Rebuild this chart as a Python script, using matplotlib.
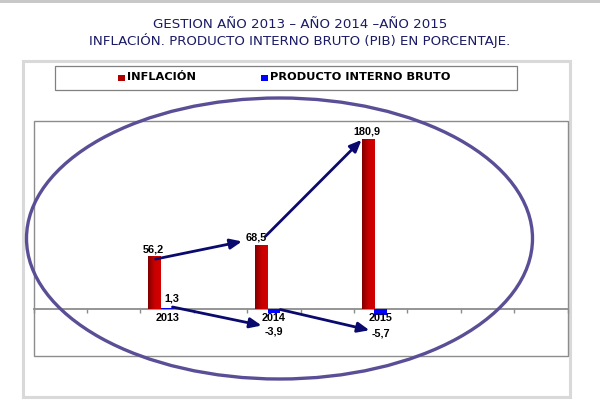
import matplotlib
matplotlib.use("Agg")
import matplotlib.pyplot as plt
import numpy as np
from matplotlib.patches import Rectangle, Ellipse
from matplotlib.colors import LinearSegmentedColormap

# ---- data ----
years = ["2013", "2014", "2015"]
inflacion = [56.2, 68.5, 180.9]
pib = [1.3, -3.9, -5.7]
inflacion_labels = ["56,2", "68,5", "180,9"]
pib_labels = ["1,3", "-3,9", "-5,7"]
series_names = ["INFLACIÓN", "PRODUCTO INTERNO BRUTO"]

title1 = "GESTION AÑO 2013 – AÑO 2014 –AÑO 2015"
title2 = "INFLACIÓN. PRODUCTO INTERNO BRUTO (PIB) EN PORCENTAJE."

# ---- layout ----
W, H = 600, 401
fig = plt.figure(figsize=(6, 4.01), dpi=100)
fig.patch.set_facecolor("white")

def fx(px):
    return px / W

def fy(py):
    return 1 - py / H

# top gray strip
fig.add_artist(Rectangle((0, fy(3)), 1, 3 / H, transform=fig.transFigure,
                         facecolor="#c8c8c8", edgecolor="none", zorder=-10))
# outer chart frame
fig.add_artist(Rectangle((fx(23), fy(397)), fx(570) - fx(23), (397 - 61) / H,
                         transform=fig.transFigure, facecolor="white",
                         edgecolor="#d9d9d9", linewidth=2.2, zorder=-10))
# legend box
fig.add_artist(Rectangle((fx(55), fy(90)), fx(517) - fx(55), (90 - 66) / H,
                         transform=fig.transFigure, facecolor="white",
                         edgecolor="#808080", linewidth=0.9, zorder=-9))

navy = "#1a1a66"
fig.text(0.5, fy(24), title1, ha="center", va="center", color=navy,
         fontsize=9.6, family="DejaVu Sans")
fig.text(0.5, fy(41), title2, ha="center", va="center", color=navy,
         fontsize=9.6, family="DejaVu Sans")

# legend entries
leg_font = dict(fontsize=8.2, fontweight="bold", family="DejaVu Sans",
                va="center", ha="left", color="black")
fig.add_artist(Rectangle((fx(118), fy(81)), 7 / W, 6 / H, transform=fig.transFigure,
                         facecolor="#b00000", edgecolor="none"))
fig.text(fx(127), fy(77.5), series_names[0], **leg_font)
fig.add_artist(Rectangle((fx(261), fy(81)), 7 / W, 6 / H, transform=fig.transFigure,
                         facecolor="#0000ff", edgecolor="none"))
fig.text(fx(270), fy(77.5), series_names[1], **leg_font)

# ---- axes ----
left, right, top, bottom = 33.7, 567.5, 121, 356.2
ax = fig.add_axes([fx(left), fy(bottom), fx(right) - fx(left), (bottom - top) / H])
ax.set_facecolor("none")
n_slots = 10
slots = [2, 4, 6]
for s in ax.spines.values():
    s.set_visible(False)
ax.add_patch(Rectangle((0, 0), 1, 1, transform=ax.transAxes, fill=False,
                       edgecolor="#8c8c8c", linewidth=1.0, zorder=1, clip_on=False))
ax.spines["bottom"].set_visible(True)
ax.spines["bottom"].set_position(("data", 0))
ax.spines["bottom"].set_color("#8c8c8c")
ax.spines["bottom"].set_linewidth(1.3)
ax.set_yticks([])
ax.set_xticks(np.arange(0, n_slots + 1))
ax.set_xticklabels([])
ax.tick_params(axis="x", direction="out", length=3, color="#8c8c8c", width=1)

bw = 0.238
centers = np.array(slots) + 0.5
red_x = centers - bw
blue_x = centers

# red bars with gradient
grad = np.linspace(0, 1, 64).reshape(1, -1)
cmap = LinearSegmentedColormap.from_list("rg", ["#800000", "#c80000", "#d40000"])
bars = ax.bar(red_x, inflacion, width=bw, color="#b00000",
              edgecolor="none", zorder=3)
for b in bars:
    x0, y0 = b.get_x(), b.get_y()
    w, h = b.get_width(), b.get_height()
    im = ax.imshow(grad, extent=[x0, x0 + w, y0, y0 + h], aspect="auto",
                   cmap=cmap, zorder=3.1, interpolation="bilinear")
    im.set_clip_path(b)

ax.bar(blue_x, pib, width=bw, color="#0000ff", edgecolor="none", zorder=4)
ax.set_xlim(0, n_slots)
ax.set_ylim(-50, 200)

lab_font = dict(fontsize=7.8, fontweight="bold", family="Liberation Sans",
                color="black", zorder=6)
red_lab_dx = [-0.03, -0.1, -0.02]
for x, v, t, dx in zip(red_x, inflacion, inflacion_labels, red_lab_dx):
    ax.annotate(t, (x + dx, v), xytext=(0, 1.5), textcoords="offset points",
                ha="center", va="bottom", **lab_font)
for x, v, t in zip(blue_x, pib, pib_labels):
    if v >= 0:
        ax.annotate(t, (x + 0.08, v), xytext=(0, 3), textcoords="offset points",
                    ha="center", va="bottom", **lab_font)
    else:
        ax.annotate(t, (x, v), xytext=(0, -10), textcoords="offset points",
                    ha="center", va="top", **lab_font)
for c, yr in zip(centers, years):
    ax.annotate(yr, (c, 0), xytext=(0, -3), textcoords="offset points",
                ha="center", va="top", **lab_font)

# arrows
arrow_col = "#0a0a6e"
aprops = dict(arrowstyle="-|>,head_length=0.7,head_width=0.3", color=arrow_col,
              lw=2.0, shrinkA=0, shrinkB=0)
ax.annotate("", xy=(red_x[1] - 0.36, inflacion[1] + 3.5),
            xytext=(red_x[0] + 0.02, inflacion[0] - 3), arrowprops=aprops, zorder=5)
ax.annotate("", xy=(red_x[2] - 0.12, inflacion[2] - 1),
            xytext=(red_x[1] + 0.08, inflacion[1] + 9), arrowprops=aprops, zorder=5)
ax.annotate("", xy=(blue_x[1] - 0.23, pib[1] - 13.5),
            xytext=(blue_x[0] + 0.1, pib[0] + 1), arrowprops=aprops, zorder=5)
ax.annotate("", xy=(blue_x[2] - 0.21, pib[2] - 16.7),
            xytext=(blue_x[1] + 0.12, pib[1] + 3.5), arrowprops=aprops, zorder=5)

# ellipse highlight
fig.add_artist(Ellipse((fx(279.5), fy(238.5)), 506 / W, 281 / H,
                       transform=fig.transFigure, fill=False,
                       edgecolor="#5a4f96", linewidth=2.4, zorder=10))

fig.savefig("out.png", dpi=100, facecolor="white")
